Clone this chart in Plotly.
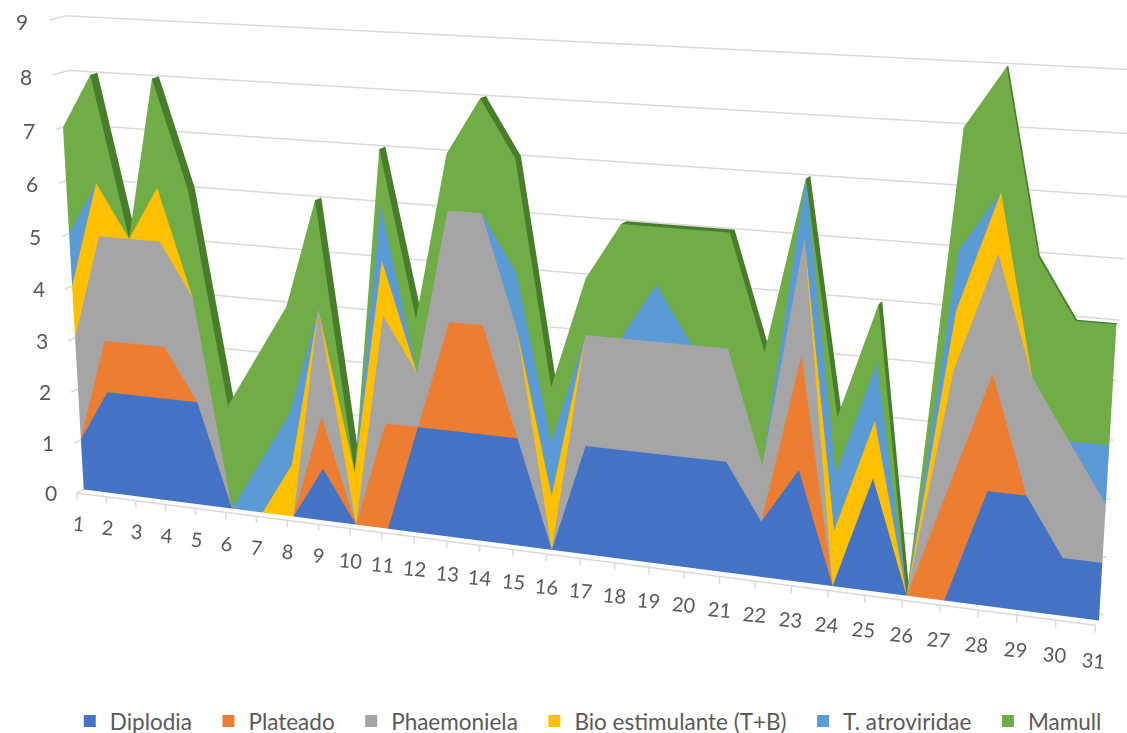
import numpy as np
import plotly.graph_objects as go

days = list(range(1, 32))
value_ticks = list(range(10))
names = ["Diplodia", "Plateado", "Phaemoniela", "Bio estimulante (T+B)", "T. atroviridae", "Mamull"]
colors = ["#4472C4", "#ED7D31", "#A5A5A5", "#FFC000", "#5B9BD5", "#70AD47"]
diplodia = [1,2,2,2,2,0,0,0,1,0,0,2,2,2,2,0,2,2,2,2,2,1,2,0,2,0,0,2,2,1,1]
plateado = [0,1,1,1,0,0,0,0,1,0,2,0,2,2,0,0,0,0,0,0,0,0,2,0,0,0,2,2,0,0,0]
phaemoniela = [2,2,2,2,2,0,0,0,2,0,2,1,2,2,2,0,2,2,2,2,2,1,2,0,0,0,2,2,2,2,1]
bio = [1,1,0,1,0,0,0,1,0,1,1,0,0,0,0,1,0,0,0,0,0,0,0,1,1,0,1,1,0,0,0]
atroviridae = [1,0,0,0,0,0,1,1,0,0,1,0,0,0,1,1,0,0,1,0,0,0,1,1,1,0,1,0,0,0,1]
mamull = [2,2,0,2,2,2,2,2,2,0,1,1,1,2,2,1,1,2,1,2,2,2,0,1,1,0,2,2,2,2,2]
series = [diplodia, plateado, phaemoniela, bio, atroviridae, mamull]

# Scene layout: the stack's face leans inside the scene box, so every scene
# coordinate is a linear function of (day, depth, value).
X_DEPTH = 0.0095475 / 0.0758973
Y_DAY, Y_DEPTH, Y_VALUE, Y_ZERO = 0.0234674, 0.0135487, -0.0378283, -0.24619
Z_DEPTH = 0.0133122 / 0.1211079
X_SCALE, X_ZERO = 0.0758973, -1.246069
Z_SCALE, Z_ZERO = 0.1211079, -0.40977
BOX = 4.0
EYE = dict(x=0.832967, y=-1.78418, z=-0.350524)
UP = dict(x=-0.038892, y=-0.210083, z=0.97691)

AXIS_DEPTH = -0.8   # front edge of the floor
WALL_DEPTH = 1.0    # back wall with the gridlines
GRID = "#D9D9D9"
TEXT = "#595959"
FLAT = dict(ambient=1, diffuse=0, specular=0, fresnel=0, roughness=1)
LEGEND_PAD = "\u00a0\u00a0"  # widens the gap between legend entries


def to_scene(day, depth, value):
    day, depth, value = (np.asarray(a, float) for a in (day, depth, value))
    x = day + X_DEPTH * depth
    y = Y_DAY * day + Y_DEPTH * depth + Y_VALUE * value + Y_ZERO
    z = value + Z_DEPTH * depth
    return x, y, z


def ribbon_faces(n):
    i, j, k = [], [], []
    for q in range(n - 1):
        i += [q, q]
        j += [q + 1, q + n + 1]
        k += [q + n + 1, q + n]
    return i, j, k


fig = go.Figure()
day_arr = np.array(days, float)
n = len(days)
i, j, k = ribbon_faces(n)
base = np.zeros(n)

# Front faces of the stacked areas
for vals, col in zip(series, colors):
    top = base + np.array(vals, float)
    x, y, z = to_scene(np.r_[day_arr, day_arr], np.zeros(2 * n), np.r_[base, top])
    fig.add_trace(go.Mesh3d(x=x, y=y, z=z, i=i, j=j, k=k, color=col, flatshading=True,
                            lighting=FLAT, showlegend=False, hoverinfo="skip"))
    base = top

# Upper surface of the solid: falling and level stretches sit in shade,
# and the surface narrows towards the last days of the month
stack_depth = np.interp(day_arr, [1, 24, 28, 31], [0.8, 0.75, 0.3, 0.3])
x, y, z = to_scene(np.r_[day_arr, day_arr], np.r_[np.zeros(n), stack_depth], np.r_[base, base])
shade = []
for q in range(n - 1):
    c = "#70AD47" if base[q + 1] > base[q] else "#477D2B"
    shade += [c, c]
fig.add_trace(go.Mesh3d(x=x, y=y, z=z, i=i, j=j, k=k, facecolor=shade, flatshading=True,
                        lighting=FLAT, showlegend=False, hoverinfo="skip"))


def add_lines(segments):
    xs, ys, zs = [], [], []
    for seg in segments:
        for d, D, v in seg:
            a, b, c = to_scene(d, D, v)
            xs.append(float(a)); ys.append(float(b)); zs.append(float(c))
        xs.append(None); ys.append(None); zs.append(None)
    fig.add_trace(go.Scatter3d(x=xs, y=ys, z=zs, mode="lines", line=dict(color=GRID, width=3),
                               showlegend=False, hoverinfo="skip"))


# Gridlines round the side and back walls, floor edge and day ticks
add_lines([[(days[0], AXIS_DEPTH, v), (days[0], WALL_DEPTH, v), (days[-1], WALL_DEPTH, v)] for v in value_ticks]
          + [[(days[0], AXIS_DEPTH, 0), (days[-1], AXIS_DEPTH, 0)]]
          + [[(d, AXIS_DEPTH, 0), (d, AXIS_DEPTH, -0.13)] for d in days])

for name, col in zip(names, colors):
    fig.add_trace(go.Scatter3d(x=[None], y=[None], z=[None], mode="markers", name=name + LEGEND_PAD,
                               marker=dict(symbol="square", size=14, color=col)))

notes = []
for d in days:
    a, b, c = to_scene(d, AXIS_DEPTH, -0.6)
    notes.append(dict(x=float(a), y=float(b), z=float(c), text=str(d), showarrow=False, textangle=5,
                      font=dict(size=20, color=TEXT, family="Lato")))
for v in value_ticks:
    a, b, c = to_scene(0.1, AXIS_DEPTH, v - 0.05)
    notes.append(dict(x=float(a), y=float(b), z=float(c), text=str(v), showarrow=False,
                      font=dict(size=21, color=TEXT, family="Lato")))

x_mid, x_span = -X_ZERO / X_SCALE, BOX / X_SCALE
z_mid, z_span = -Z_ZERO / Z_SCALE, BOX / Z_SCALE
fig.update_layout(
    width=1127, height=733, margin=dict(l=0, r=0, t=0, b=0, autoexpand=False), paper_bgcolor="white",
    font=dict(family="Lato", color=TEXT),
    legend=dict(orientation="h", x=0.5273, xanchor="center", y=-0.0136, yanchor="bottom",
                font=dict(size=22.5), itemsizing="constant"),
    scene=dict(
        domain=dict(x=[0, 1], y=[0, 1]), aspectmode="manual", dragmode="orbit",
        aspectratio=dict(x=BOX, y=BOX, z=BOX),
        xaxis=dict(visible=False, range=[x_mid - x_span / 2, x_mid + x_span / 2]),
        yaxis=dict(visible=False, range=[-BOX / 2, BOX / 2]),
        zaxis=dict(visible=False, range=[z_mid - z_span / 2, z_mid + z_span / 2]),
        camera=dict(eye=EYE, center=dict(x=0, y=0, z=0), up=UP, projection=dict(type="perspective")),
        annotations=notes,
    ),
)
fig.write_html("out.html")
